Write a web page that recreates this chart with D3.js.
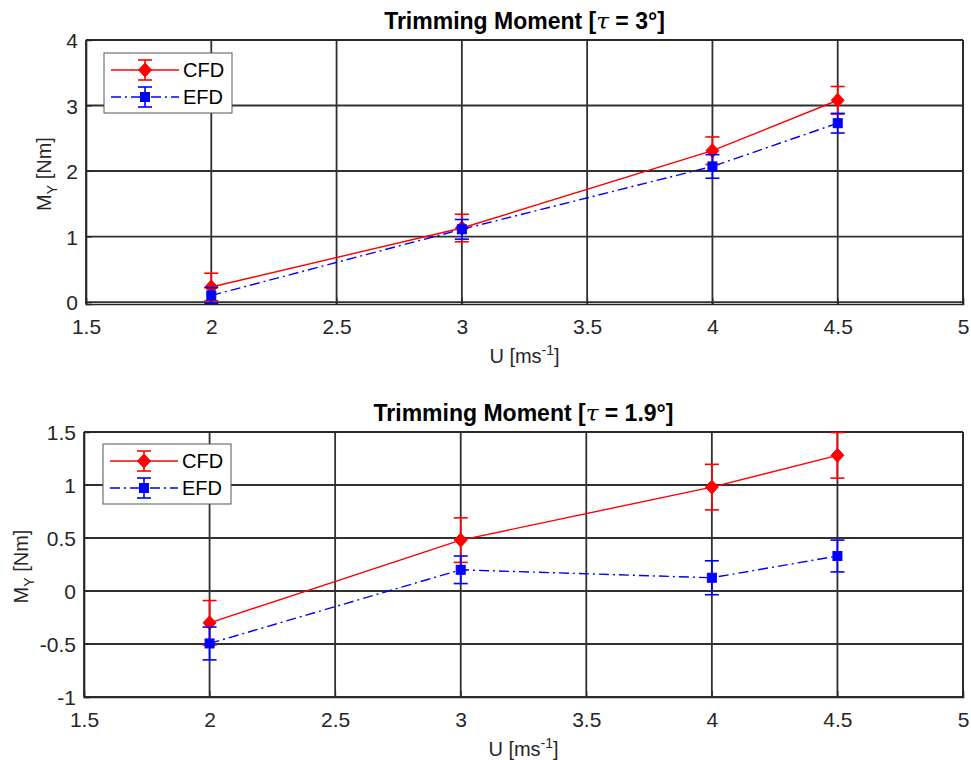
<!DOCTYPE html>
<html><head><meta charset="utf-8">
<script src="https://cdn.jsdelivr.net/npm/d3@7"></script>
<style>body{margin:0;background:#fff}</style>
</head><body><svg id="c" width="971" height="760"></svg>
<script>
const speeds=[2,3,4,4.5];
const xTicks=[1.5,2,2.5,3,3.5,4,4.5,5];
const cfd3=[0.23,1.13,2.31,3.08];
const cfd3Err=[0.21,0.21,0.21,0.21];
const efd3=[0.10,1.11,2.07,2.73];
const efd3Err=[0.12,0.15,0.18,0.15];
const cfd19=[-0.30,0.48,0.98,1.28];
const cfd19Err=[0.21,0.21,0.215,0.215];
const efd19=[-0.495,0.20,0.125,0.33];
const efd19Err=[0.155,0.13,0.16,0.15];
const yTicks3=[0,1,2,3,4];
const yTicks19=[-1,-0.5,0,0.5,1,1.5];
const seriesNames=["CFD","EFD"];

const svg=d3.select("#c");
const FONT="'Liberation Sans', Arial, Helvetica, sans-serif";
const TXT="#262626", GRID="#303030";

function panel(o){
  const g=svg.append("g");
  const x=d3.scaleLinear().domain([1.5,5]).range([o.left,o.right]);
  const y=d3.scaleLinear().domain(o.ydom).range([o.bottom,o.top]);
  // grid
  g.selectAll(".gx").data(xTicks).join("line")
    .attr("x1",d=>x(d)).attr("x2",d=>x(d)).attr("y1",o.top).attr("y2",o.bottom)
    .attr("stroke",GRID).attr("stroke-width",1.8);
  g.selectAll(".gy").data(o.yticks).join("line")
    .attr("x1",o.left).attr("x2",o.right).attr("y1",d=>y(d)).attr("y2",d=>y(d))
    .attr("stroke",GRID).attr("stroke-width",1.8);
  // axes via d3
  const ax=g.append("g").attr("transform",`translate(0,${o.bottom})`)
    .call(d3.axisBottom(x).tickValues(xTicks).tickSize(-6).tickPadding(12).tickFormat(d=>String(d)));
  const ay=g.append("g").attr("transform",`translate(${o.left},0)`)
    .call(d3.axisLeft(y).tickValues(o.yticks).tickSize(-6).tickPadding(8).tickFormat(d=>String(d)));
  [ax,ay].forEach(a=>{
    a.select(".domain").attr("stroke",TXT).attr("stroke-width",1.6);
    a.selectAll(".tick line").attr("stroke",TXT);
    a.selectAll(".tick text").attr("fill",TXT).style("font-family",FONT).style("font-size","21px");
  });
  ax.selectAll(".tick text").attr("dy","0.85em");
  ay.selectAll(".tick text").attr("dy","0.36em");
  // box top/right
  g.append("line").attr("x1",o.left).attr("x2",o.right).attr("y1",o.top).attr("y2",o.top).attr("stroke",TXT).attr("stroke-width",1.6);
  g.append("line").attr("x1",o.right).attr("x2",o.right).attr("y1",o.top).attr("y2",o.bottom).attr("stroke",TXT).attr("stroke-width",1.6);

  // title
  const t=g.append("text").attr("x",(o.left+o.right)/2).attr("y",o.top-11).attr("text-anchor","middle")
    .style("font-family",FONT).style("font-size","23px").style("font-weight","bold").attr("fill","#000");
  t.append("tspan").text("Trimming Moment [");
  t.append("tspan").text("τ").style("font-style","italic").style("font-family","'DejaVu Serif', serif").style("font-weight","normal");
  t.append("tspan").text(" = "+o.angle+"°]");

  // x label
  const xl=g.append("text").attr("x",(o.left+o.right)/2).attr("y",o.bottom+59).attr("text-anchor","middle")
    .style("font-family",FONT).style("font-size","20px").attr("fill",TXT);
  xl.append("tspan").text("U [ms");
  xl.append("tspan").text("-1").attr("dy",-8).style("font-size","14px");
  xl.append("tspan").text("]").attr("dy",8);
  // y label
  const yl=g.append("text").attr("transform",`translate(${o.ylabelX},${(o.top+o.bottom)/2+2}) rotate(-90)`)
    .attr("text-anchor","middle").style("font-family",FONT).style("font-size","20px").attr("fill",TXT);
  yl.append("tspan").text("M");
  yl.append("tspan").text("Y").attr("dy",6).style("font-size","14px");
  yl.append("tspan").text(" [Nm]").attr("dy",-6);

  const styles=[
    {color:"#ff0000",dash:null,marker:"diamond"},
    {color:"#0000ff",dash:"10,4,2,4",marker:"square"}
  ];
  const data=[o.cfd,o.efd];
  const errs=[o.cfdErr,o.efdErr];
  const line=d3.line().x(d=>x(d[0])).y(d=>y(d[1]));
  function marker(sel,type,color,cx,cy){
    if(type==="diamond"){
      sel.append("path").attr("d",`M${cx},${cy-7}L${cx+6.5},${cy}L${cx},${cy+7}L${cx-6.5},${cy}Z`).attr("fill",color).attr("stroke",color);
    } else {
      sel.append("rect").attr("x",cx-4.5).attr("y",cy-4.5).attr("width",9).attr("height",9).attr("fill",color).attr("stroke",color);
    }
  }
  data.forEach((vals,si)=>{
    const s=styles[si];
    const pts=speeds.map((v,i)=>[v,vals[i],errs[si][i]]);
    const sg=g.append("g");
    sg.append("path").attr("d",line(pts)).attr("fill","none").attr("stroke",s.color).attr("stroke-width",1.4)
      .attr("stroke-dasharray",s.dash);
    pts.forEach(p=>{
      const cx=x(p[0]), y1=y(p[1]-p[2]), y2=y(p[1]+p[2]);
      sg.append("line").attr("x1",cx).attr("x2",cx).attr("y1",y1).attr("y2",y2).attr("stroke",s.color).attr("stroke-width",1.6);
      [y1,y2].forEach(yy=>sg.append("line").attr("x1",cx-7).attr("x2",cx+7).attr("y1",yy).attr("y2",yy).attr("stroke",s.color).attr("stroke-width",1.6));
      marker(sg,s.marker,s.color,cx,y(p[1]));
    });
  });
  // legend
  const L=o.legend;
  const lg=g.append("g");
  lg.append("rect").attr("x",L.x).attr("y",L.y).attr("width",128).attr("height",60).attr("fill","#fff").attr("stroke","#555").attr("stroke-width",1);
  seriesNames.forEach((nm,i)=>{
    const s=styles[i];
    const yy=L.y+17+i*27;
    lg.append("line").attr("x1",L.x+7).attr("x2",L.x+75).attr("y1",yy).attr("y2",yy).attr("stroke",s.color).attr("stroke-width",1.4).attr("stroke-dasharray",s.dash);
    const cx=L.x+41;
    lg.append("line").attr("x1",cx).attr("x2",cx).attr("y1",yy-10).attr("y2",yy+10).attr("stroke",s.color).attr("stroke-width",1.6);
    [yy-10,yy+10].forEach(q=>lg.append("line").attr("x1",cx-7).attr("x2",cx+7).attr("y1",q).attr("y2",q).attr("stroke",s.color).attr("stroke-width",1.6));
    marker(lg,s.marker,s.color,cx,yy);
    lg.append("text").attr("x",L.x+79).attr("y",yy).attr("dy","0.36em").text(nm)
      .style("font-family",FONT).style("font-size","20px").attr("fill","#000");
  });
}

panel({left:86,right:963,top:40,bottom:304,ydom:[-0.03,4],yticks:yTicks3,angle:"3",
  cfd:cfd3,cfdErr:cfd3Err,efd:efd3,efdErr:efd3Err,legend:{x:104,y:53},ylabelX:51});
panel({left:84,right:963,top:432,bottom:697,ydom:[-1,1.5],yticks:yTicks19,angle:"1.9",
  cfd:cfd19,cfdErr:cfd19Err,efd:efd19,efdErr:efd19Err,legend:{x:103,y:444},ylabelX:28});
</script>
</body></html>
